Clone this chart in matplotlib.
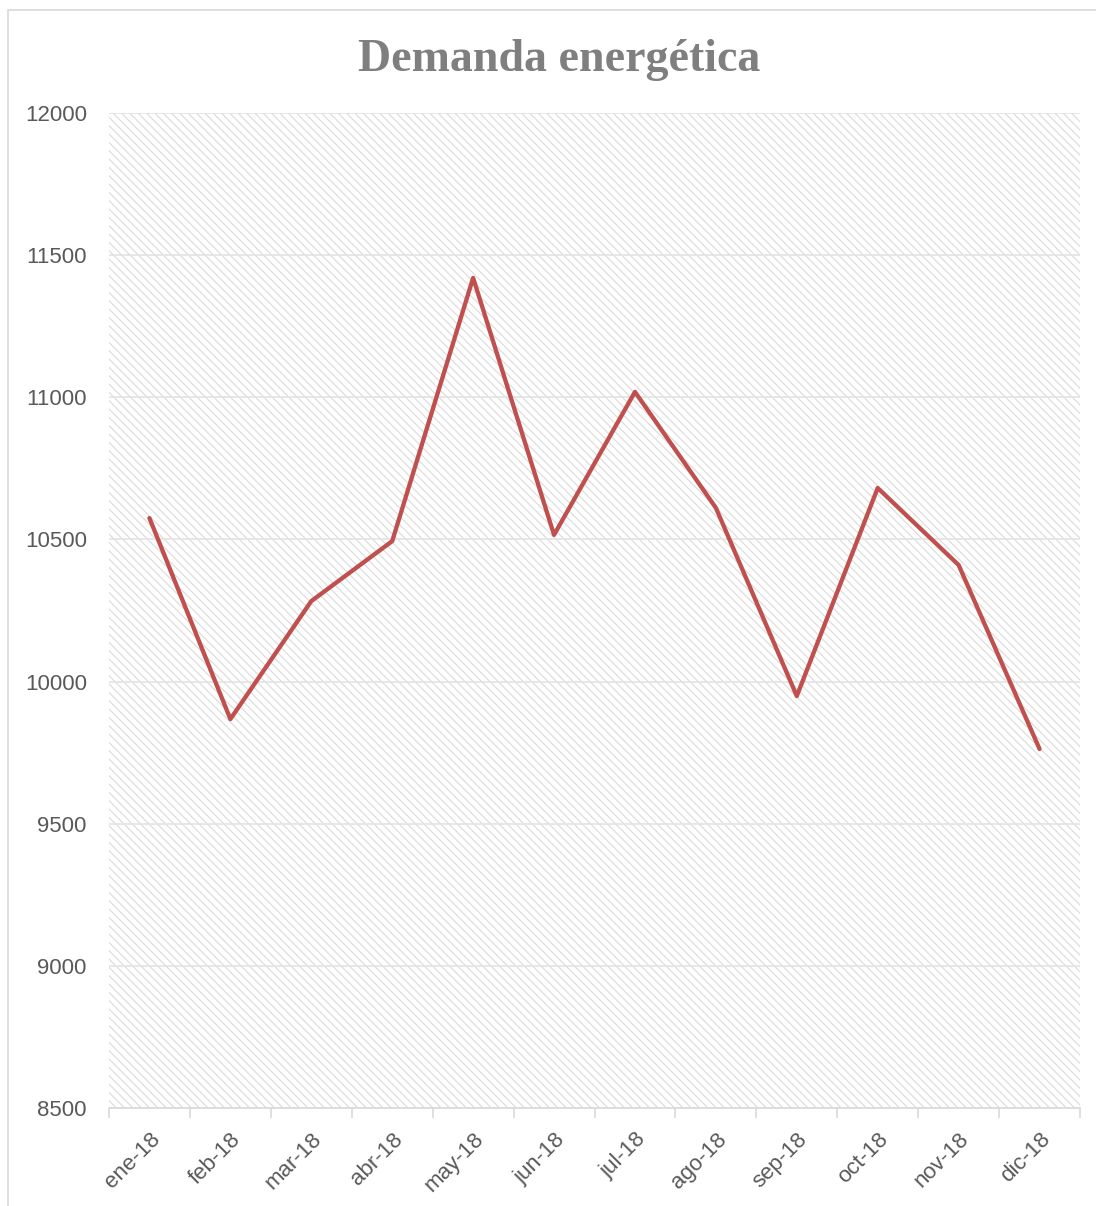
import matplotlib
matplotlib.use("Agg")
import matplotlib.pyplot as plt
from matplotlib.patches import Rectangle
from matplotlib.ticker import FixedLocator, NullFormatter
import numpy as np

# ── Data ──────────────────────────────────────────────────────────────────────
MONTHS = ["ene-18", "feb-18", "mar-18", "abr-18", "may-18", "jun-18",
          "jul-18", "ago-18", "sep-18", "oct-18", "nov-18", "dic-18"]
DEMAND = [10575, 9868, 10283, 10494, 11420, 10516,
          11019, 10611, 9949, 10681, 10410, 9763]
Y_TICKS = [8500, 9000, 9500, 10000, 10500, 11000, 11500, 12000]

GRID_GREY = "#d9d9d9"
TEXT_GREY = "#595959"
LINE_RED  = "#c0504d"

plt.rcParams.update({
    "font.family": ["Liberation Sans", "DejaVu Sans"],
    "hatch.color": "#dadada",
    "hatch.linewidth": 0.8,
})

fig = plt.figure(figsize=(10.96, 12.06), dpi=100)
fig.patch.set_facecolor("white")

# chart-area border
fig.add_artist(Rectangle((8 / 1096, -0.01), 1.2, 1 - 10 / 1206 + 0.01,
                         transform=fig.transFigure, facecolor="none",
                         edgecolor=GRID_GREY, linewidth=1.2))

ax = fig.add_axes([109 / 1096, 1 - 1108 / 1206,
                   (1080 - 109) / 1096, (1108 - 113) / 1206])
ax.set_facecolor("white")

# hatched plot area
ax.add_patch(Rectangle((0, 0), 1, 1, transform=ax.transAxes,
                       facecolor="white", edgecolor="#dadada", linewidth=0,
                       hatch="\\\\\\\\", zorder=0))

x = np.arange(len(MONTHS))
ax.plot(x, DEMAND, color=LINE_RED, linewidth=3.1,
        solid_joinstyle="round", solid_capstyle="round", zorder=3)

ax.set_xlim(-0.5, len(MONTHS) - 0.5)
ax.set_ylim(Y_TICKS[0], Y_TICKS[-1])

# gridlines
ax.set_yticks(Y_TICKS)
ax.yaxis.grid(True, color="#e3e3e3", linewidth=1.2, zorder=1)
ax.set_axisbelow(True)
ax.tick_params(axis="y", length=0, pad=16, labelsize=16, labelcolor=TEXT_GREY)

# ticks at category boundaries, labels at centres
ax.xaxis.set_major_locator(FixedLocator(np.arange(-0.5, len(MONTHS), 1.0)))
ax.xaxis.set_major_formatter(NullFormatter())
ax.xaxis.set_minor_locator(FixedLocator(x))
ax.set_xticklabels(MONTHS, minor=True, rotation=45, ha="right",
                   rotation_mode="anchor")
ax.tick_params(axis="x", which="major", length=7, width=1.2, color=GRID_GREY)
ax.tick_params(axis="x", which="minor", length=0, pad=15, labelsize=16,
               labelcolor=TEXT_GREY)

for side in ["left", "right", "top"]:
    ax.spines[side].set_visible(False)
ax.spines["bottom"].set_color(GRID_GREY)
ax.spines["bottom"].set_linewidth(1.2)

fig.text(559 / 1096, 1 - 71 / 1206, "Demanda energética",
         ha="center", va="baseline", fontsize=33, fontweight="bold",
         family=["Liberation Serif", "DejaVu Serif"], color="#7f7f7f")

fig.savefig("out.png", dpi=100, facecolor="white")
